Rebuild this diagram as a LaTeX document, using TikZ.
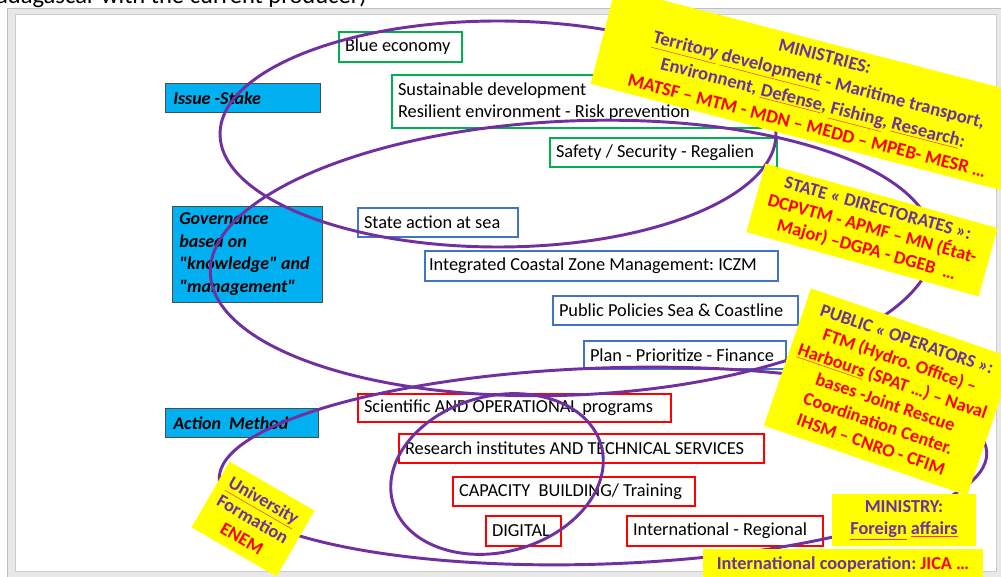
\documentclass[tikz,border=0pt]{standalone}
\usepackage{fontspec}
\setmainfont{Carlito}
\newfontfamily\stakefont{Carlito}
\usetikzlibrary{positioning}
\frenchspacing

\definecolor{plum}{HTML}{7030A0}
\definecolor{skyfill}{HTML}{00B0F0}
\definecolor{leafgreen}{HTML}{00B050}
\definecolor{steelblue}{HTML}{4472C4}
\definecolor{notered}{HTML}{FF0000}
\definecolor{noteyellow}{HTML}{FFFF00}

\newlength\px
\setlength\px{0.75pt}
\newcommand\spell[1]{{\colorlet{spellkeep}{.}\textcolor{notered!80}{\underline{\textcolor{spellkeep}{#1}}}}}

\begin{document}
\begin{tikzpicture}[x=0.75pt,y=-0.75pt,
  stake/.style={draw=black!70, fill=skyfill, anchor=north west, align=flush left,
    inner xsep=8\px, inner ysep=0pt, font=\stakefont\fontsize{13.5}{16.9}\selectfont\bfseries\itshape},
  topic/.style={draw, line width=1.5pt, fill=white, anchor=north west, align=flush left,
    inner xsep=6\px, inner ysep=0pt, font=\fontsize{13.75}{16.5}\selectfont},
  goal/.style={topic, draw=leafgreen},
  gov/.style={topic, draw=steelblue},
  act/.style={topic, draw=notered},
  ring/.style={draw=plum, line width=2.2pt},
  note/.style={fill=noteyellow, align=center, inner sep=0pt, text=plum,
    font=\fontsize{13.7}{16.5}\selectfont\bfseries}]

\useasboundingbox (0,0) rectangle (1001,577);
\clip (0,0) rectangle (1001,577);

% slide frame
\fill[white] (0,0) rectangle (1001,577);
\filldraw[fill=black!9, draw=black!25] (7,8) rectangle (1003,580);
\filldraw[fill=white, draw=black!20] (15,14) rectangle (996,571);
\node[anchor=base west, inner sep=0pt, font=\fontsize{18.4}{22}\selectfont] (headline) at (-25,3.5) {Madagascar with the current producer)};

% left column
\node[stake, text width=139\px, minimum height=29\px] (issue) at (165,83) {Issue -Stake};
\node[stake, inner xsep=7\px, text width=136\px, minimum height=96\px] (governance) at (172,206) {Governance\\ based on\\ "knowledge" and\\ "management"};
\node[stake, text width=137\px, minimum height=29\px] (method) at (165,408) {Action~ Method};

% stakes
\node[goal, text width=111\px, minimum height=30\px] (blue) at (338,31) {Blue economy};
\node[goal, text width=357\px, minimum height=53\px] (sustain) at (391,74) {Sustainable development\\ Resilient environment - Risk prevention};
\node[goal, text width=215\px, minimum height=29\px] (safety) at (549,137) {Safety / Security - Regalien};

% governance
\node[gov, text width=148\px, minimum height=29\px] (stateact) at (357,207) {State action at sea};
\node[gov, inner xsep=4\px, text width=345\px, minimum height=30\px] (iczm) at (424,250) {Integrated Coastal Zone Management: ICZM};
\node[gov, text width=233\px, minimum height=29\px] (policies) at (552,295) {Public Policies Sea \& Coastline};
\node[gov, text width=190\px, minimum height=28\px] (plan) at (583,340) {Plan - Prioritize - Finance};

% action
\node[act, text width=301\px, minimum height=28\px] (science) at (357,393) {Scientific AND OPERATIONAL programs};
\node[act, text width=353\px, minimum height=29\px] (research) at (398,433) {Research institutes AND TECHNICAL SERVICES};
\node[act, text width=230\px, minimum height=29\px] (capacity) at (452,476) {CAPACITY~ BUILDING/ Training};
\node[act, text width=63\px, minimum height=30\px] (digital) at (485,515) {DIGITAL};
\node[act, text width=184\px, minimum height=30\px] (intl) at (626,515) {International - Regional};

% rings
\draw[ring] (498,134) ellipse [x radius=278, y radius=113];
\draw[ring, rotate around={2.5:(572,258)}] (572,258) ellipse [x radius=362, y radius=137];
\draw[ring, rotate around={2:(603,466)}] (603,466) ellipse [x radius=384, y radius=98];
\draw[ring, rotate around={15:(497,474)}] (497,474) ellipse [x radius=108, y radius=78];

% actors
\node[note, rotate=-14.5, minimum width=440\px, minimum height=99\px, font=\fontsize{14}{18}\selectfont\bfseries] (ministries) at (816,91)
  {MINISTRIES:\\ \spell{Territory} \spell{development} - Maritime transport,\\ Environnent, \spell{Defense}, \spell{Fishing}, \spell{Research}:\\ \textcolor{notered}{MATSF – MTM - MDN – MEDD – MPEB- MESR …}};
\node[note, rotate=-15.5, minimum width=241\px, minimum height=71\px, font=\fontsize{13.7}{16}\selectfont\bfseries] (directorates) at (872,230)
  {STATE « DIRECTORATES »:\\ \textcolor{notered}{DCPVTM - APMF – MN (État-}\\ \textcolor{notered}{Major) –DGPA - DGEB~ …}};
\node[note, rotate=-19, minimum width=215\px, minimum height=145\px, font=\fontsize{13.7}{16.7}\selectfont\bfseries] (operators) at (889,392)
  {PUBLIC « OPERATORS »:\\ \textcolor{notered}{FTM (Hydro. Office) –}\\ \textcolor{notered}{\spell{Harbours} (SPAT …) – Naval}\\ \textcolor{notered}{bases -Joint Rescue}\\ \textcolor{notered}{Coordination Center.}\\ \textcolor{notered}{IHSM – CNRO - CFIM}};
\node[note, rotate=-30, minimum width=98\px, minimum height=76\px, font=\fontsize{13.8}{16.5}\selectfont\bfseries] (university) at (253,519)
  {\spell{University}\\ Formation\\ \textcolor{notered}{ENEM}};
\node[note, minimum width=144\px, minimum height=52\px] (foreign) at (904,520) {MINISTRY:\\ \spell{Foreign} \spell{affairs}};
\node[note, minimum width=280\px, minimum height=32\px] (jica) at (843,565) {International cooperation: \textcolor{notered}{JICA …}};
\end{tikzpicture}
\end{document}
